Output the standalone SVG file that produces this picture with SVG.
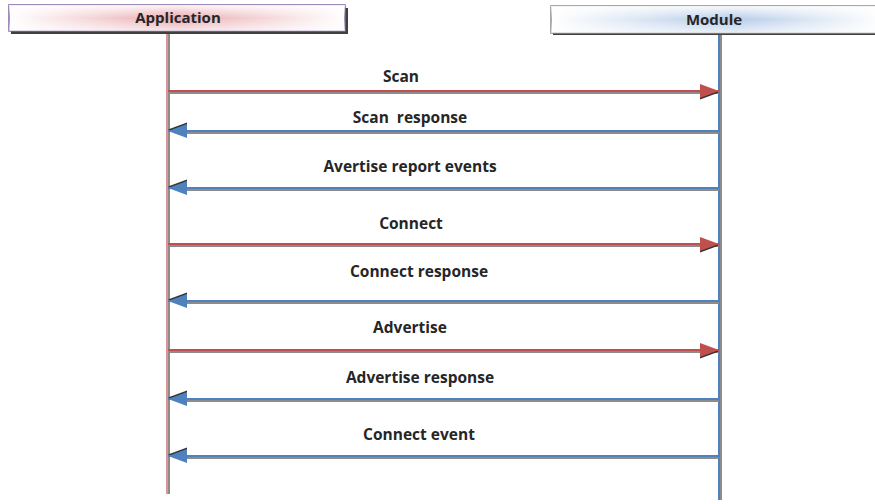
<svg xmlns="http://www.w3.org/2000/svg" width="875" height="504" viewBox="0 0 875 504">
  <defs>
    <linearGradient id="gradApp" x1="0" y1="0" x2="1" y2="0">
      <stop offset="0" stop-color="#ffffff"/>
      <stop offset="0.5" stop-color="#e9a9ae"/>
      <stop offset="1" stop-color="#ffffff"/>
    </linearGradient>
    <linearGradient id="gradAppV" x1="0" y1="0" x2="0" y2="1">
      <stop offset="0" stop-color="#ffffff" stop-opacity="0.9"/>
      <stop offset="0.5" stop-color="#ffffff" stop-opacity="0"/>
      <stop offset="1" stop-color="#ffffff" stop-opacity="0.7"/>
    </linearGradient>
    <linearGradient id="gradMod" x1="0" y1="0" x2="1" y2="0">
      <stop offset="0" stop-color="#ffffff"/>
      <stop offset="0.55" stop-color="#b4cbe8"/>
      <stop offset="1" stop-color="#ffffff"/>
    </linearGradient>
    <marker id="headRed" viewBox="0 0 20 16" refX="19" refY="7" markerWidth="20" markerHeight="16" markerUnits="userSpaceOnUse" orient="auto">
      <polygon points="0,0 19,7 0,14" fill="#333" transform="translate(0,1.5)"/>
      <polygon points="0,0 19,7 0,14" fill="#c0504d"/>
    </marker>
    <marker id="headBlue" viewBox="0 0 20 16" refX="19" refY="7" markerWidth="20" markerHeight="16" markerUnits="userSpaceOnUse" orient="auto">
      <polygon points="0,0 19,7 0,14" fill="#333" transform="translate(0,1.5)"/>
      <polygon points="0,0 19,7 0,14" fill="#4f81bd"/>
    </marker>
  </defs>
  <style>
    .lbl { font-family: "Open Sans", "Liberation Sans", sans-serif; font-weight: bold; font-size: 15.5px; fill: #262626; text-anchor: middle; }
    .hdr { font-family: "Open Sans", "Liberation Sans", sans-serif; font-weight: bold; font-size: 15px; fill: #262626; text-anchor: middle; }
    .shadow { stroke: #8c8c8c; stroke-width: 2; fill: none; }
    .req { stroke: #c0504d; stroke-width: 2; fill: none; }
    .rsp { stroke: #4f81bd; stroke-width: 2; fill: none; }
  </style>

  <rect width="875" height="504" fill="#ffffff"/>

  <!-- lifelines -->
  <g id="lifeline-application">
    <line x1="169" y1="33" x2="169" y2="494" class="shadow"/>
    <line x1="167" y1="33" x2="167" y2="494" stroke="#c0504d" stroke-width="1.2"/>
  </g>
  <g id="lifeline-module">
    <line x1="721" y1="34" x2="721" y2="500" class="shadow"/>
    <line x1="719" y1="34" x2="719" y2="500" stroke="#4f81bd" stroke-width="2"/>
  </g>

  <!-- participant headers -->
  <g id="application">
    <rect x="11" y="8" width="337" height="26" fill="#404040"/>
    <rect x="9" y="5" width="336" height="26" fill="url(#gradApp)" stroke="#8064a2" stroke-width="1.5"/>
    <rect x="9" y="5" width="336" height="26" fill="url(#gradAppV)"/>
    <text x="178" y="23" class="hdr">Application</text>
  </g>
  <g id="module">
    <rect x="553" y="9" width="330" height="26" fill="#404040"/>
    <rect x="551" y="6" width="330" height="27" fill="url(#gradMod)" stroke="#8c8c8c" stroke-width="1.5"/>
    <rect x="551" y="6" width="330" height="27" fill="url(#gradAppV)"/>
    <text x="714" y="25" class="hdr">Module</text>
  </g>

  <!-- messages -->
  <g id="connectors">
    <line x1="169" y1="93" x2="719" y2="93" class="shadow"/>
    <line x1="168" y1="91" x2="719" y2="91" class="req" marker-end="url(#headRed)"/>

    <line x1="186" y1="133" x2="719" y2="133" class="shadow"/>
    <line x1="719" y1="131" x2="168" y2="131" class="rsp" marker-end="url(#headBlue)"/>

    <line x1="186" y1="190" x2="719" y2="190" class="shadow"/>
    <line x1="719" y1="188" x2="168" y2="188" class="rsp" marker-end="url(#headBlue)"/>

    <line x1="169" y1="246" x2="719" y2="246" class="shadow"/>
    <line x1="168" y1="244" x2="719" y2="244" class="req" marker-end="url(#headRed)"/>

    <line x1="186" y1="303" x2="719" y2="303" class="shadow"/>
    <line x1="719" y1="301" x2="168" y2="301" class="rsp" marker-end="url(#headBlue)"/>

    <line x1="169" y1="352" x2="719" y2="352" class="shadow"/>
    <line x1="168" y1="350" x2="719" y2="350" class="req" marker-end="url(#headRed)"/>

    <line x1="186" y1="401" x2="719" y2="401" class="shadow"/>
    <line x1="719" y1="399" x2="168" y2="399" class="rsp" marker-end="url(#headBlue)"/>

    <line x1="186" y1="458" x2="719" y2="458" class="shadow"/>
    <line x1="719" y1="456" x2="168" y2="456" class="rsp" marker-end="url(#headBlue)"/>
  </g>

  <!-- message labels -->
  <g id="labels">
    <text x="401" y="82" class="lbl">Scan</text>
    <text x="410" y="123" class="lbl" xml:space="preserve">Scan  response</text>
    <text x="410" y="172" class="lbl">Avertise report events</text>
    <text x="411" y="229" class="lbl">Connect</text>
    <text x="419" y="277" class="lbl">Connect response</text>
    <text x="410" y="333" class="lbl">Advertise</text>
    <text x="420" y="383" class="lbl">Advertise response</text>
    <text x="419" y="440" class="lbl">Connect event</text>
  </g>
</svg>
